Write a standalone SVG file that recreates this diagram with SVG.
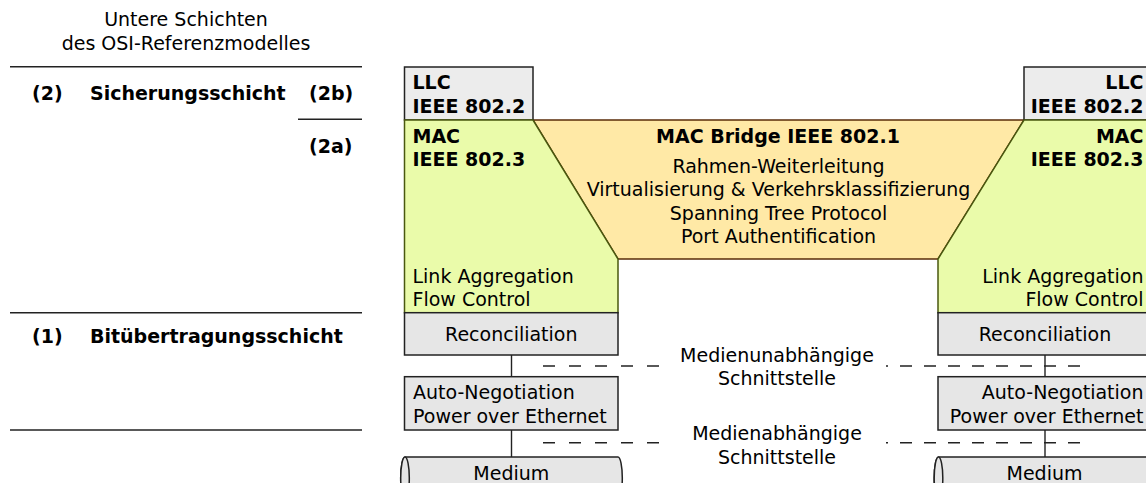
<svg xmlns="http://www.w3.org/2000/svg" width="1146" height="483" viewBox="0 0 1146 483">
  <style>
    text { font-family: "DejaVu Sans", "Noto Sans", sans-serif; font-size: 19px; fill: #000; }
    .b { font-weight: bold; }
    .mid { text-anchor: middle; }
    .end { text-anchor: end; }
    .sep { stroke: #222; stroke-width: 1.5; fill: none; }
    .gray { fill: #e6e6e6; stroke: #222; stroke-width: 1.5; }
    .llc { fill: #ececec; stroke: #222; stroke-width: 1.5; }
    .mac { fill: #eafbaa; stroke: #4a580f; stroke-width: 1.5; }
    .bridge { fill: #ffe9a6; stroke: #5a2c08; stroke-width: 1.5; }
    .link { stroke: #222; stroke-width: 1.4; fill: none; }
    .dash { stroke: #222; stroke-width: 1.5; fill: none; stroke-dasharray: 12 14; }
  </style>

  <!-- OSI layer legend -->
  <g id="legend">
    <text class="mid" x="186" y="26">Untere Schichten</text>
    <text class="mid" x="186" y="50">des OSI-Referenzmodelles</text>
    <line class="sep" x1="10" y1="66.7" x2="362" y2="66.7"/>
    <text class="b" x="32" y="100">(2)</text>
    <text class="b" x="90" y="100">Sicherungsschicht</text>
    <text class="b" x="309" y="100">(2b)</text>
    <line class="sep" x1="298" y1="119.3" x2="362" y2="119.3"/>
    <text class="b" x="309" y="153">(2a)</text>
    <line class="sep" x1="10" y1="312.7" x2="362" y2="312.7"/>
    <text class="b" x="32" y="343">(1)</text>
    <text class="b" x="90" y="343">Bitübertragungsschicht</text>
    <line class="sep" x1="10" y1="430" x2="362" y2="430"/>
  </g>

  <!-- connectors between stacked blocks and interface lines -->
  <g id="connectors">
    <line class="link" x1="511.5" y1="355" x2="511.5" y2="377"/>
    <line class="link" x1="511.5" y1="430" x2="511.5" y2="457"/>
    <line class="link" x1="1045" y1="355" x2="1045" y2="377"/>
    <line class="link" x1="1045" y1="430" x2="1045" y2="457"/>
    <line class="dash" x1="543" y1="366" x2="659" y2="366"/>
    <line class="dash" x1="543" y1="442.7" x2="659" y2="442.7"/>
    <line class="dash" style="stroke-dasharray: 12 12; stroke-dashoffset: 10" x1="886" y1="366" x2="1090" y2="366"/>
    <line class="dash" style="stroke-dasharray: 12 12; stroke-dashoffset: 10" x1="886" y1="442.7" x2="1090" y2="442.7"/>
  </g>

  <g id="label-mii">
    <text class="mid" x="777" y="361.5">Medienunabhängige</text>
    <text class="mid" x="777" y="385">Schnittstelle</text>
  </g>
  <g id="label-mdi">
    <text class="mid" x="777" y="440">Medienabhängige</text>
    <text class="mid" x="777" y="463.5">Schnittstelle</text>
  </g>

  <!-- bridge relay between the two MACs -->
  <g id="bridge">
    <polygon class="bridge" points="533,120 1024,120 938,259 618,259"/>
    <text class="b mid" x="778" y="142.5">MAC Bridge IEEE 802.1</text>
    <text class="mid" x="778.5" y="172.5">Rahmen-Weiterleitung</text>
    <text class="mid" x="778.5" y="196">Virtualisierung &amp; Verkehrsklassifizierung</text>
    <text class="mid" x="778.5" y="219.5">Spanning Tree Protocol</text>
    <text class="mid" x="778.5" y="243">Port Authentification</text>
  </g>

  <!-- left port stack -->
  <g id="llc-left">
    <rect class="llc" x="404.5" y="67" width="128.5" height="53"/>
    <text class="b" x="412.5" y="89">LLC</text>
    <text class="b" x="412.5" y="112.5">IEEE 802.2</text>
  </g>
  <g id="mac-left">
    <polygon class="mac" points="404.5,120 533,120 618,259 618,312.7 404.5,312.7"/>
    <text class="b" x="412.5" y="142.5">MAC</text>
    <text class="b" x="412.5" y="166">IEEE 802.3</text>
    <text x="412.5" y="282.5">Link Aggregation</text>
    <text x="412.5" y="306">Flow Control</text>
  </g>
  <g id="rs-left">
    <rect class="gray" x="404.5" y="312.7" width="213.5" height="42.3"/>
    <text class="mid" x="511.3" y="341">Reconciliation</text>
  </g>
  <g id="phy-left">
    <rect class="gray" x="404.5" y="376.7" width="213.5" height="53.3"/>
    <text x="413" y="399.3">Auto-Negotiation</text>
    <text x="413" y="422.7">Power over Ethernet</text>
  </g>
  <g id="medium-left">
    <path class="gray" d="M405,457 H618 A4.3,21 0 0 1 618,499 H405 A4.3,21 0 0 1 405,457 Z"/>
    <ellipse class="gray" cx="405" cy="478" rx="4.3" ry="21"/>
    <text class="mid" x="511.3" y="480">Medium</text>
  </g>

  <!-- right port stack -->
  <g id="llc-right">
    <rect class="llc" x="1024" y="67" width="128" height="53"/>
    <text class="b end" x="1143.5" y="89">LLC</text>
    <text class="b end" x="1143.5" y="112.5">IEEE 802.2</text>
  </g>
  <g id="mac-right">
    <polygon class="mac" points="1024,120 1152,120 1152,312.7 938,312.7 938,259"/>
    <text class="b end" x="1143.5" y="142.5">MAC</text>
    <text class="b end" x="1143.5" y="166">IEEE 802.3</text>
    <text class="end" x="1143.5" y="282.5">Link Aggregation</text>
    <text class="end" x="1143.5" y="306">Flow Control</text>
  </g>
  <g id="rs-right">
    <rect class="gray" x="938" y="312.7" width="214" height="42.3"/>
    <text class="mid" x="1045" y="341">Reconciliation</text>
  </g>
  <g id="phy-right">
    <rect class="gray" x="938" y="376.7" width="214" height="53.3"/>
    <text class="end" x="1143.5" y="399.3">Auto-Negotiation</text>
    <text class="end" x="1143.5" y="422.7">Power over Ethernet</text>
  </g>
  <g id="medium-right">
    <path class="gray" d="M938.5,457 H1152 A4.3,21 0 0 1 1152,499 H938.5 A4.3,21 0 0 1 938.5,457 Z"/>
    <ellipse class="gray" cx="938.5" cy="478" rx="4.3" ry="21"/>
    <text class="mid" x="1044.5" y="480">Medium</text>
  </g>
</svg>
